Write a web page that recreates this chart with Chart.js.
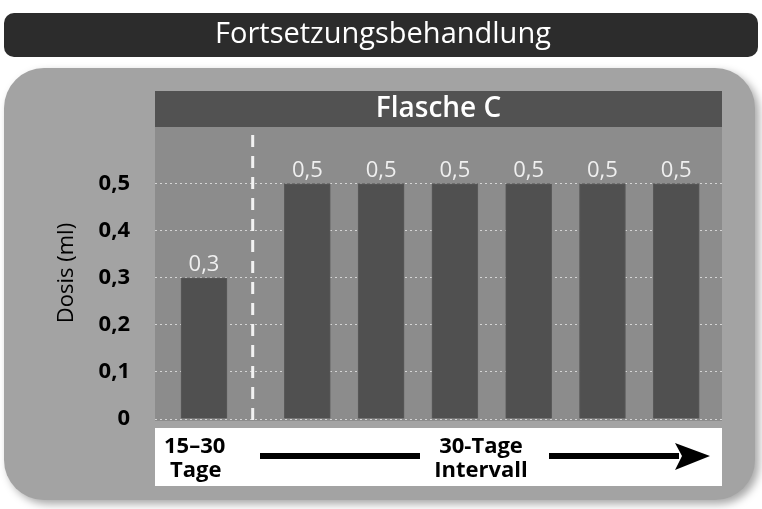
<!DOCTYPE html>
<html>
<head>
<meta charset="utf-8">
<script src="https://cdn.jsdelivr.net/npm/chart.js@4.4.1/dist/chart.umd.min.js"></script>
<style>
  html, body { margin: 0; padding: 0; background: #fff; }
  #wrap { width: 762px; height: 509px; }
</style>
</head>
<body>
<div id="wrap"><canvas id="doseChart" width="762" height="509"></canvas></div>
<script>
const pageTitle = 'Fortsetzungsbehandlung';
const panelTitle = 'Flasche C';
const axisTitle = 'Dosis (ml)';
const slotPos = [0, 1.4, 2.4, 3.4, 4.4, 5.4, 6.4];
const doses = [0.3, 0.5, 0.5, 0.5, 0.5, 0.5, 0.5];
const yTicks = [0, 0.1, 0.2, 0.3, 0.4, 0.5];
const separatorPos = 0.66;
const startLabel = ['15–30', 'Tage'];
const intervalLabel = ['30-Tage', 'Intervall'];

const FONT = "'Open Sans', 'Noto Sans', sans-serif";

function fmt(v) {
    return v === 0 ? '0' : v.toFixed(1).replace('.', ',');
}

function roundRect(ctx, x, y, w, h, r) {
    ctx.beginPath();
    ctx.moveTo(x + r, y);
    ctx.arcTo(x + w, y, x + w, y + h, r);
    ctx.arcTo(x + w, y + h, x, y + h, r);
    ctx.arcTo(x, y + h, x, y, r);
    ctx.arcTo(x, y, x + w, y, r);
    ctx.closePath();
}

const framePlugin = {
    id: 'frame',
    beforeDraw(chart) {
        const ctx = chart.ctx;
        const a = chart.chartArea;
        ctx.save();
        ctx.fillStyle = '#fff';
        ctx.fillRect(0, 0, chart.width, chart.height);

        // top banner
        ctx.fillStyle = '#2c2c2c';
        roundRect(ctx, 4, 13, 754, 44, 10);
        ctx.fill();
        ctx.fillStyle = '#fff';
        ctx.font = `29px ${FONT}`;
        ctx.textAlign = 'center';
        ctx.textBaseline = 'middle';
        ctx.fillText(pageTitle, 383, 35);

        // grey panel with soft shadow
        ctx.save();
        ctx.shadowColor = 'rgba(0,0,0,0.35)';
        ctx.shadowBlur = 8;
        ctx.shadowOffsetX = 4;
        ctx.shadowOffsetY = 4;
        ctx.fillStyle = '#a3a3a3';
        roundRect(ctx, 4, 68, 751, 432, 40);
        ctx.fill();
        ctx.restore();

        // header strip
        ctx.fillStyle = '#525252';
        ctx.fillRect(a.left, 91, a.right - a.left, a.top - 91);
        ctx.fillStyle = '#fff';
        ctx.font = `600 28px ${FONT}`;
        ctx.fillText(panelTitle, (a.left + a.right) / 2, 109);

        // plot background
        ctx.fillStyle = '#8c8c8c';
        ctx.fillRect(a.left, a.top, a.right - a.left, a.bottom - a.top + 2);

        // bottom white band
        ctx.fillStyle = '#fff';
        ctx.fillRect(a.left, 428, a.right - a.left, 58);
        ctx.restore();
    },
    afterDatasetsDraw(chart) {
        const ctx = chart.ctx;
        const a = chart.chartArea;
        const xs = chart.scales.x;
        ctx.save();
        // dashed separator
        const sx = xs.getPixelForValue(separatorPos);
        ctx.strokeStyle = '#f2f2f2';
        ctx.lineWidth = 3;
        ctx.setLineDash([12, 9]);
        ctx.beginPath();
        ctx.moveTo(sx, a.top + 8);
        ctx.lineTo(sx, a.bottom + 2);
        ctx.stroke();
        ctx.setLineDash([]);

        // value labels
        ctx.fillStyle = '#efefef';
        ctx.font = `22px ${FONT}`;
        ctx.textAlign = 'center';
        ctx.textBaseline = 'alphabetic';
        chart.getDatasetMeta(0).data.forEach((bar, i) => {
            ctx.fillText(fmt(doses[i]), bar.x, bar.y - 7);
        });

        // bottom band: labels and arrow
        ctx.fillStyle = '#000';
        ctx.font = `bold 22px ${FONT}`;
        ctx.textAlign = 'left';
        ctx.fillText(startLabel[0], 164, 453);
        ctx.fillText(startLabel[1], 170, 477);
        ctx.textAlign = 'center';
        ctx.fillText(intervalLabel[0], 481, 453);
        ctx.fillText(intervalLabel[1], 481, 477);

        ctx.fillRect(260, 453, 160, 6);
        ctx.fillRect(549, 453, 130, 6);
        ctx.beginPath();
        ctx.moveTo(675, 443);
        ctx.lineTo(710, 456);
        ctx.lineTo(675, 470);
        ctx.lineTo(682, 456);
        ctx.closePath();
        ctx.fill();
        ctx.restore();
    }
};

new Chart(document.getElementById('doseChart'), {
    type: 'bar',
    data: {
        datasets: [{
            data: slotPos.map((x, i) => ({ x: x, y: doses[i] })),
            backgroundColor: '#505050',
            borderColor: '#5a5a5a',
            borderWidth: 1,
            barThickness: 46
        }]
    },
    options: {
        responsive: false,
        animation: false,
        layout: { padding: { left: 0, top: 127, right: 40, bottom: 90 } },
        plugins: { legend: { display: false }, tooltip: { enabled: false } },
        scales: {
            x: {
                type: 'linear',
                offset: false,
                min: -0.664,
                max: 7.02,
                display: false
            },
            y: {
                min: 0,
                max: 0.62,
                afterBuildTicks(scale) {
                    scale.ticks = yTicks.map(v => ({ value: v }));
                },
                afterFit(scale) {
                    scale.width = 155;
                },
                border: { display: false, dash: [2, 3] },
                grid: {
                    color: '#d4d4d4',
                    lineWidth: 1,
                    drawTicks: false
                },
                ticks: {
                    padding: 25,
                    color: '#000',
                    font: { family: FONT, size: 22, weight: 'bold' },
                    callback: v => fmt(v)
                },
                title: {
                    display: true,
                    text: axisTitle,
                    color: '#000',
                    font: { family: FONT, size: 22 },
                    padding: { top: 54, bottom: 0 }
                }
            }
        }
    },
    plugins: [framePlugin]
});
</script>
</body>
</html>
